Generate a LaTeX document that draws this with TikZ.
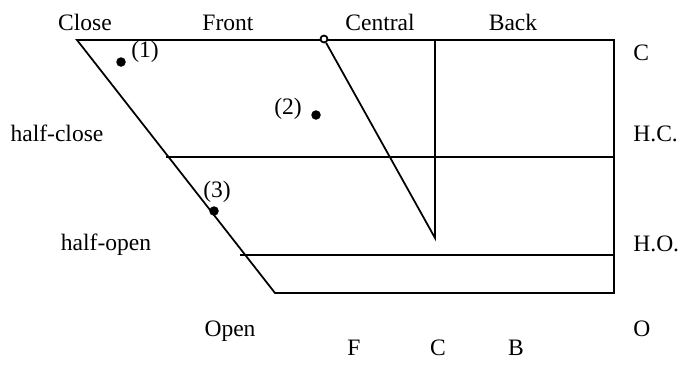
\documentclass[tikz,border=0pt]{standalone}
\usepackage{fontspec}
\setmainfont{Liberation Serif}
\usetikzlibrary{positioning, calc}

\begin{document}
\begin{tikzpicture}[
        x=0.02cm, y=-0.02cm,
        frame/.style={draw=black, line width=1pt},
        lbl/.style={font=\fontsize{13.4}{15}\selectfont, inner sep=0pt, anchor=base},
        rlbl/.style={lbl, anchor=base west},
        num/.style={font=\fontsize{13.4}{15}\selectfont, inner sep=0pt},
        dot/.style={circle, fill=black, inner sep=0pt, minimum size=0.19cm},
        pivotmark/.style={circle, draw=black, line width=1pt, fill=white, inner sep=0pt, minimum size=0.14cm}
    ]
        \useasboundingbox (0,0) rectangle (678,369);
        % corners of the chart
        \coordinate (cl) at (77,40);
        \coordinate (cr) at (614,40);
        \coordinate (or) at (614,293);
        \coordinate (ol) at (275,293);
        \coordinate (hcl) at (166,157);
        \coordinate (hcr) at (614,157);
        \coordinate (hol) at (240,255);
        \coordinate (hor) at (614,255);
        \coordinate (ctop) at (435,40);
        \coordinate (cbot) at (435,238);
        \draw[frame] (ol) -- (cl) -- (cr) -- (or) -- cycle;
        \draw[frame] (hcl) -- (hcr);
        \draw[frame] (hol) -- (hor);
        \node[pivotmark] (pivot) at (324,39) {};
        \draw[frame] (pivot) -- (cbot) -- (ctop);
        % labels
        \node[lbl] (close) at (85,30) {Close};
        \node[lbl] (front) at (228,30) {Front};
        \node[lbl] (central) at (380,30) {Central};
        \node[lbl] (back) at (513,30) {Back};
        \node[lbl] (hclose) at (57,141) {half-close};
        \node[lbl] (hopen) at (106,250) {half-open};
        \node[lbl] (open) at (230,336) {Open};
        \node[rlbl] (rc) at (633,60) {C};
        \node[rlbl] (rhc) at (633,141) {H.C.};
        \node[rlbl] (rho) at (633,251) {H.O.};
        \node[rlbl] (ro) at (633,336) {O};
        \node[lbl] (f) at (354,355) {F};
        \node[lbl] (c) at (438,355) {C};
        \node[lbl] (b) at (516,355) {B};
        % points
        \node[dot] (p1) at (121,62) {};
        \node[num] (l1) at (145,52) {(1)};
        \node[dot] (p2) at (316,115) {};
        \node[num] (l2) at (288,109) {(2)};
        \node[dot] (p3) at (214,211) {};
        \node[num] (l3) at (217,192) {(3)};
    \end{tikzpicture}
\end{document}
